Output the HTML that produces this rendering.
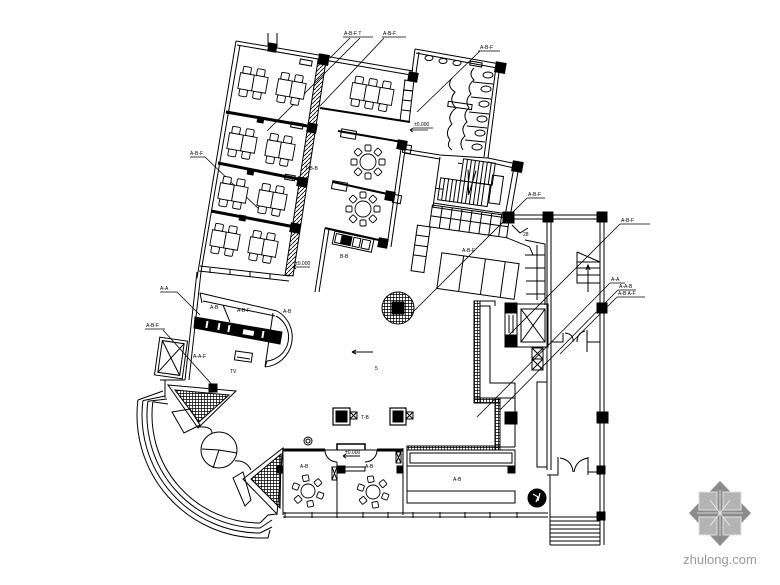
<!DOCTYPE html>
<html><head><meta charset="utf-8"><style>
html,body{margin:0;padding:0;background:#fff;}
svg{display:block;}
text{font-family:"Liberation Sans","Noto Sans CJK SC",sans-serif;fill:#000;}
</style></head><body>
<svg width="780" height="585" viewBox="0 0 780 585" xmlns="http://www.w3.org/2000/svg">
<defs>
<pattern id="grid" width="3" height="3" patternUnits="userSpaceOnUse">
<path d="M0 0.5H3M0.5 0V3" stroke="#000" stroke-width="0.7" fill="none"/>
</pattern>
<pattern id="diag" width="4" height="4" patternUnits="userSpaceOnUse">
<path d="M0 4L4 0" stroke="#000" stroke-width="0.8"/>
</pattern>
<g id="t2" fill="#fff" stroke="#000" stroke-width="0.9">
<rect x="-12" y="-15" width="8" height="7" rx="1.5"/>
<rect x="2" y="-15" width="8" height="7" rx="1.5"/>
<rect x="-12" y="8" width="8" height="7" rx="1.5"/>
<rect x="2" y="8" width="8" height="7" rx="1.5"/>
<rect x="-14" y="-8" width="14" height="16"/>
<rect x="0" y="-8" width="14" height="16"/>
</g>
<g id="t3" fill="#fff" stroke="#000" stroke-width="0.9">
<rect x="-19" y="-15" width="8" height="7" rx="1.5"/>
<rect x="-5" y="-15" width="8" height="7" rx="1.5"/>
<rect x="9" y="-15" width="8" height="7" rx="1.5"/>
<rect x="-19" y="8" width="8" height="7" rx="1.5"/>
<rect x="-5" y="8" width="8" height="7" rx="1.5"/>
<rect x="9" y="8" width="8" height="7" rx="1.5"/>
<rect x="-21" y="-8" width="14" height="16"/>
<rect x="-7" y="-8" width="14" height="16"/>
<rect x="7" y="-8" width="14" height="16"/>
</g>
<g id="r8" fill="#fff" stroke="#000" stroke-width="0.9">
<circle r="8"/>
<rect x="11" y="-3" width="6" height="6" rx="1"/>
<rect x="11" y="-3" width="6" height="6" rx="1" transform="rotate(45)"/>
<rect x="11" y="-3" width="6" height="6" rx="1" transform="rotate(90)"/>
<rect x="11" y="-3" width="6" height="6" rx="1" transform="rotate(135)"/>
<rect x="11" y="-3" width="6" height="6" rx="1" transform="rotate(180)"/>
<rect x="11" y="-3" width="6" height="6" rx="1" transform="rotate(225)"/>
<rect x="11" y="-3" width="6" height="6" rx="1" transform="rotate(270)"/>
<rect x="11" y="-3" width="6" height="6" rx="1" transform="rotate(315)"/>
</g>
<g id="r6" fill="#fff" stroke="#000" stroke-width="0.9">
<circle r="7"/>
<rect x="10" y="-3" width="6" height="6" rx="1" transform="rotate(20)"/>
<rect x="10" y="-3" width="6" height="6" rx="1" transform="rotate(80)"/>
<rect x="10" y="-3" width="6" height="6" rx="1" transform="rotate(140)"/>
<rect x="10" y="-3" width="6" height="6" rx="1" transform="rotate(200)"/>
<rect x="10" y="-3" width="6" height="6" rx="1" transform="rotate(260)"/>
<rect x="10" y="-3" width="6" height="6" rx="1" transform="rotate(320)"/>
</g>
</defs>
<rect width="780" height="585" fill="#fff"/>

<g fill="none" stroke="#000" stroke-width="1">
<!-- ===== Upper dining block ===== -->
<path d="M236 41 L413 71 M237 45 L411 75"/>
<path d="M236 41 L197 278 M240 45 L201 272"/>
<path d="M268 33 V46 M277 33 V47"/>
<path d="M226 112 L313 127 M218 163 L303 180 M211 211 L295 227" stroke-width="3"/>
<path d="M200 266 L290 276 M199 271 L289 281"/>
<path d="M210 268 v5 M230 270 v5 M250 272 v5 M270 274 v5"/>
<polygon points="318,60 326,61 293,276 285,275" fill="url(#diag)"/>
<!-- top middle room -->
<path d="M320 108 L410 122" stroke-width="2"/>
<path d="M405 80 L400 121 M414 80 L409 122 M404 90 L413 91 M403 100 L412 101 M402 110 L411 111"/>
<rect x="300" y="60" width="12" height="5" transform="rotate(10 306 62)"/>
<rect x="291" y="123" width="12" height="5" transform="rotate(10 297 125)"/>
<rect x="285" y="175" width="10" height="5" transform="rotate(10 290 177)"/>
<!-- round table rooms -->
<path d="M338 131 L402 142" stroke-width="2"/>
<path d="M333 182 L392 195" stroke-width="2"/>
<path d="M325 228 L388 242" stroke-width="2"/>
<path d="M402 142 L387 246 M406 143 L391 247"/>
<path d="M325 228 L315 292 M329 229 L319 292"/>
<rect x="341" y="130" width="15" height="8" transform="rotate(10 348 134)"/>
<rect x="332" y="182" width="15" height="8" transform="rotate(10 340 186)"/>
<rect x="403" y="145" width="8" height="8" transform="rotate(10 407 149)"/>
<rect x="393" y="195" width="8" height="8" transform="rotate(10 397 199)"/>
<g transform="rotate(12 352 242)">
<rect x="333" y="235" width="40" height="13"/>
<rect x="342" y="237" width="9" height="9" fill="#000"/>
<rect x="335" y="237" width="6" height="9"/>
<rect x="353" y="237" width="7" height="9"/>
<rect x="362" y="237" width="8" height="9"/>
</g>
<!-- ===== Restroom ===== -->
<path d="M415 49 L500 64 M416 53 L497 68"/>
<path d="M415 49 L411 80 M419 52 L415 80"/>
<path d="M500 64 L488 158 M496 67 L484 157"/>
<path d="M403 149 L440 155 L488 158 M404 153 L440 159"/>
<g fill="#fff">
<ellipse cx="488" cy="75" rx="5" ry="3"/>
<ellipse cx="486" cy="89" rx="5" ry="3"/>
<ellipse cx="484" cy="104" rx="5" ry="3"/>
<ellipse cx="482" cy="119" rx="5" ry="3"/>
<ellipse cx="480" cy="133" rx="5" ry="3"/>
<ellipse cx="477" cy="147" rx="5" ry="3"/>
<ellipse cx="429" cy="58" rx="4" ry="2.5"/>
<ellipse cx="443" cy="61" rx="4" ry="2.5"/>
<ellipse cx="457" cy="63" rx="4" ry="2.5"/>
</g>
<path d="M473 82 L493 84 M471 97 L491 99 M469 112 L489 114 M467 126 L487 128 M465 140 L485 142"/>
<path d="M474 68 Q468 74 474 80 Q466 86 471 94 Q464 100 469 108 Q462 114 467 122 Q460 128 465 136 Q458 142 463 150"/>
<path d="M452 78 Q446 86 455 92 Q448 100 456 108 Q446 116 452 124 Q444 132 450 140 Q446 146 452 150"/>
<rect x="470" y="62" width="12" height="4" transform="rotate(10 476 64)"/>
<rect x="448" y="103" width="24" height="5" transform="rotate(8 460 105)"/>
<path d="M404 80 L413 81 M403 90 L413 91"/>
<!-- ===== Main stairs ===== -->
<path d="M488 158 L517 164 M488 162 L514 168"/>
<path d="M519 166 L510 217 M514 167 L505 216"/>
<path d="M440 157 L433 207"/>
<path d="M433 203 L508 214 M432 207 L507 218"/>
<g transform="rotate(8 470 185)">
<rect x="460" y="160" width="32" height="22"/>
<path d="M464 160v22M468 160v22M472 160v22M476 160v22M480 160v22M484 160v22M488 160v22"/>
<rect x="440" y="182" width="50" height="22"/>
<path d="M444 182v22M448 182v22M452 182v22M456 182v22M460 182v22M464 182v22M468 182v22M472 182v22M476 182v22M480 182v22M484 182v22"/>
<rect x="491" y="172" width="11" height="28"/>
<path d="M466 170 L470 195 L474 170 M436 193 h8 M455 165 h4"/>
</g>
<!-- tiles -->
<g transform="rotate(8 480 240)">
<rect x="428" y="212" width="78" height="22"/>
<path d="M428 223h78M438 212v22M448 212v22M458 212v22M468 212v22M478 212v22M488 212v22M498 212v22"/>
<rect x="416" y="234" width="13" height="46"/>
<path d="M416 244h13M416 254h13M416 264h13"/>
<rect x="444" y="258" width="78" height="36"/>
<path d="M466 258v36M488 258v36M508 258v36"/>
<path d="M506 234 L530 240 L535 248"/>
</g>
<path d="M525 240 L545 244 L545 305 M537 245 L537 300 M525 255h20M525 268h20M526 281h19M526 294h19"/>
<path d="M512 225 L520 233 L528 228"/>
<!-- ===== Center ===== -->
<circle cx="398" cy="308" r="16" fill="url(#grid)"/>
<rect x="392" y="302" width="12" height="12" fill="#000"/>
<rect x="333" y="408" width="17" height="17" stroke-width="1.2"/>
<rect x="336" y="411" width="11" height="11" fill="#000"/>
<rect x="350" y="412" width="7" height="7"/>
<path d="M350 412l7 7M357 412l-7 7"/>
<rect x="390" y="408" width="16" height="17" stroke-width="1.2"/>
<rect x="393" y="411" width="10" height="11" fill="#000"/>
<rect x="406" y="412" width="7" height="7"/>
<path d="M406 412l7 7M413 412l-7 7"/>
<path d="M352 352 h21 M352 352 l4 -2 M352 352 l4 2"/>
<!-- ===== Counter L & elevator ===== -->
<rect x="474" y="301" width="6" height="102" fill="url(#grid)"/>
<rect x="474" y="398" width="26" height="5" fill="url(#grid)"/>
<rect x="495" y="398" width="5" height="52" fill="url(#grid)"/>
<rect x="407" y="446" width="93" height="4" fill="url(#grid)"/>
<path d="M474 301 H495 V306"/>
<polygon points="480,306 490,306 490,383 515,383 515,398 480,398"/>
<rect x="505" y="303" width="12" height="10" fill="#000"/>
<rect x="505" y="335" width="12" height="12" fill="#000"/>
<rect x="505" y="313" width="12" height="22"/>
<path d="M509 315v18M513 315v18"/>
<rect x="517" y="304" width="31" height="43"/>
<rect x="521" y="309" width="24" height="33"/>
<path d="M521 309l24 33M545 309l-24 33"/>
<rect x="532" y="348" width="11" height="22"/>
<path d="M532 348l11 11M543 348l-11 11M532 359l11 11M543 359l-11 11M532 359h11"/>
<rect x="505" y="412" width="12" height="12" fill="#000"/>
<rect x="508" y="467" width="7" height="6" fill="#000"/>
<path d="M500 403 V447 M515 383 V447 M500 447 H515"/>
<!-- ===== Right section ===== -->
<path d="M508 215 H602 M508 219 H602"/>
<path d="M547 222 V470 M551 222 V470"/>
<path d="M600 222 V545 M604 222 V545"/>
<rect x="503" y="212" width="11" height="11" fill="#000"/>
<rect x="543" y="212" width="10" height="10" fill="#000"/>
<rect x="597" y="212" width="10" height="10" fill="#000"/>
<rect x="597" y="303" width="10" height="10" fill="#000"/>
<rect x="597" y="412" width="11" height="11" fill="#000"/>
<rect x="597" y="466" width="8" height="8" fill="#000"/>
<rect x="597" y="512" width="8" height="8" fill="#000"/>
<rect x="537" y="382" width="10" height="85"/>
<path d="M551 342 H563 V333 M587 330 V352 M587 342 H600"/>
<path d="M565 333 Q574 334 573 342 M585 331 Q577 333 577 342"/>
<path d="M577 252 L600 262 M577 252 V283 H600 M577 262 H600 M577 268 H600 M577 275 H600 M588 265 V292"/>
<path d="M586 270 l2 -5 l2 5"/>
<path d="M537 467 H547 M547 475 H558 V457 M588 457 V475 M588 472 H597"/>
<path d="M560 458 Q572 460 573 472 M588 458 Q576 460 574 472"/>
<path d="M550 475 V545 M550 517 H600 M550 521 H600 M550 525 H600 M550 529 H600 M550 533 H600 M550 537 H600 M550 541 H600 M550 545 H600"/>
<circle cx="537" cy="498" r="9" fill="#000"/>
<path d="M533 494 l5 3 l-2 5 M540 493 l-2 8" stroke="#fff" stroke-width="1.2"/>
<!-- ===== Private rooms ===== -->
<path d="M283 450 H325 M377 450 H403" stroke-width="3"/>
<path d="M325 450 H377"/>
<path d="M337 450 V444 H365 V450" stroke-width="1.5"/>
<path d="M325 450 A12 12 0 0 0 337 462 M377 450 A12 12 0 0 1 365 462"/>
<path d="M283 448 V515 M337 462 V515 M403 448 V515 M407 448 V492"/>
<path d="M283 513 H548 M283 517 H548"/>
<path d="M285 512v6M312 512v6M337 512v6M363 512v6M388 512v6M413 512v6M440 512v6M465 512v6M490 512v6M517 512v6"/>
<rect x="338" y="466" width="7" height="7" fill="#000"/>
<rect x="277" y="466" width="6" height="7" fill="#000"/>
<rect x="397" y="466" width="6" height="7" fill="#000"/>
<rect x="345" y="467" width="20" height="4"/>
<rect x="332" y="467" width="5" height="13"/>
<path d="M332 467l5 13M337 467l-5 13"/>
<rect x="396" y="452" width="5" height="11"/>
<path d="M396 452l5 11M401 452l-5 11"/>
<path d="M343 456 h17 M343 456 l3 -2 M343 456 l3 2"/>
<rect x="407" y="450" width="108" height="16"/>
<rect x="410" y="453" width="102" height="10"/>
<rect x="407" y="491" width="108" height="12"/>
<circle cx="308" cy="441" r="4"/>
<circle cx="308" cy="441" r="2"/>
<!-- ===== Bar & left part ===== -->
<path d="M197 272 L185 380 M201 272 L189 380"/>
<path d="M200 293 L277 311 M203 301 L275 316 M200 293 L202 303"/>
<path d="M277 311 A30 30 0 0 1 265 367 M276 316 A24 24 0 0 1 267 361 M265 367 L273 313 M267 361 L265 367"/>
<polygon points="195,317 282,332 280,344 194,328" fill="#000"/>
<g fill="#fff" stroke="none">
<rect x="243" y="330" width="11" height="5" transform="rotate(10 248 332)"/>
<rect x="206" y="321" width="2" height="7" transform="rotate(10 207 324)"/>
<rect x="218" y="323" width="2" height="7" transform="rotate(10 219 326)"/>
<rect x="228" y="325" width="2" height="7" transform="rotate(10 229 328)"/>
<rect x="262" y="331" width="2" height="7" transform="rotate(10 263 334)"/>
</g>
<path d="M223 305 L230 322"/>
<rect x="235" y="352" width="17" height="9" transform="rotate(8 243 356)"/>
<path d="M237 357 L250 359"/>
<g transform="rotate(8 171 358)">
<rect x="157" y="339" width="28" height="38"/>
<rect x="160" y="342" width="22" height="32"/>
<path d="M160 342L182 374M182 342L160 374"/>
</g>
<path d="M165 380 V398 M160 380 H185"/>
<!-- upper triangle -->
<polygon points="168,385 236,391 198,428"/>
<polygon points="175,390 229,395 199,422" fill="url(#grid)"/>
<rect x="209" y="384" width="8" height="8" fill="#000"/>
<polygon points="172,412 190,409 200,425 184,433"/>
<!-- lower triangle -->
<polygon points="283,448 243,479 277,514"/>
<polygon points="281,454 251,479 280,508" fill="url(#grid)"/>
<polygon points="233,478 243,472 251,500 245,506"/>
<!-- circle -->
<circle cx="219" cy="450" r="18"/>
<path d="M219 450 L202 449 M219 450 L237 453 M219 450 L213 468"/>
<path d="M198 427 Q212 426 212 433 M235 461 Q246 460 251 470"/>
<!-- arcs -->
<path d="M137.9 400 A123 123 0 0 0 260 538"/>
<path d="M142.9 400.6 A118 118 0 0 0 260 533"/>
<path d="M147.8 401.2 A113 113 0 0 0 260 528"/>
<path d="M152.8 401.8 A108 108 0 0 0 260 523"/>
<path d="M137.9 400 L163 391 M142.9 400.6 L165 396 M147.8 401.2 L167 399 M152.8 401.8 L168 404"/>
<path d="M260 538 L268 538 L270 530 M260 533 L272 527 M260 528 L272 520 M260 523 L268 515 L277 514"/>
<!-- ===== Leaders ===== -->
<g stroke-width="0.8">
<path d="M343 37 H373 M382 37 H406 M360 38 L267 131 M384 38 L320 106 M350 38 L330 58"/>
<path d="M478 51 H500 M480 51 L417 112"/>
<path d="M190 157 H205 M205 157 L263 213"/>
<path d="M527 198 H545 M527 198 L411 314"/>
<path d="M620 224 H650 M620 224 L505 339"/>
<path d="M610 283 H625 M618 290 H636 M617 297 H645 M610 283 L477 417 M618 290 L500 410 M617 297 L560 354"/>
<path d="M160 292 H177 M177 292 L200 315"/>
<path d="M145 329 H165 M163 330 L215 388"/>
<path d="M293 267 H310 M293 267 l3 -2 M293 267 l3 2"/>
<path d="M410 130 H428 M410 130 l3 -2 M410 130 l3 2"/>
<path d="M413 128 H433"/>
</g>
</g>

<!-- structural columns -->
<g fill="#000">
<rect x="268" y="43" width="9" height="9" transform="rotate(10 272 47)"/>
<rect x="318" y="54" width="11" height="11" transform="rotate(10 323 60)"/>
<rect x="408" y="72" width="10" height="10" transform="rotate(10 413 77)"/>
<rect x="495" y="62" width="11" height="11" transform="rotate(10 500 67)"/>
<rect x="397" y="140" width="10" height="10" transform="rotate(10 402 145)"/>
<rect x="385" y="191" width="10" height="10" transform="rotate(10 390 196)"/>
<rect x="378" y="238" width="10" height="10" transform="rotate(10 383 243)"/>
<rect x="307" y="123" width="10" height="10" transform="rotate(10 312 128)"/>
<rect x="297" y="177" width="10" height="10" transform="rotate(10 302 182)"/>
<rect x="290" y="223" width="10" height="10" transform="rotate(10 295 228)"/>
<rect x="257" y="117" width="7" height="6" transform="rotate(10 260 120)"/>
<rect x="247" y="169" width="7" height="6" transform="rotate(10 250 172)"/>
<rect x="239" y="215" width="7" height="6" transform="rotate(10 242 218)"/>
<rect x="512" y="161" width="11" height="11" transform="rotate(10 517 166)"/>
</g>

<!-- tiny labels -->
<g font-size="5">
<text x="344" y="35">A-B-F  T</text>
<text x="383" y="35">A-B-F</text>
<text x="480" y="49">A-B-F</text>
<text x="190" y="155">A-B-F</text>
<text x="528" y="196">A-B-F</text>
<text x="621" y="222">A-B-F</text>
<text x="611" y="281">A-A</text>
<text x="619" y="288">A-A-B</text>
<text x="618" y="295">A-B  A-F</text>
<text x="160" y="290">A-A</text>
<text x="146" y="327">A-B-F</text>
<text x="193" y="358">A-A-F</text>
<text x="230" y="373">TV</text>
<text x="305" y="170">T-B-B</text>
<text x="414" y="126">±0.000</text>
<text x="295" y="265">±0.000</text>
<text x="345" y="454">±0.000</text>
<text x="340" y="258">B-B</text>
<text x="462" y="252">A-B-F</text>
<text x="523" y="236">28</text>
<text x="375" y="370">5</text>
<text x="361" y="419">T-B</text>
<text x="300" y="468">A-B</text>
<text x="365" y="468">A-B</text>
<text x="453" y="481">A-B</text>
<text x="210" y="309">A-B</text>
<text x="237" y="312">A-B-F</text>
<text x="283" y="313">A-B</text>
</g>

<!-- tables -->
<use href="#t2" transform="translate(253,83) rotate(10)"/>
<use href="#t2" transform="translate(291,89) rotate(10)"/>
<use href="#t2" transform="translate(242,143) rotate(10)"/>
<use href="#t2" transform="translate(280,150) rotate(10)"/>
<use href="#t2" transform="translate(233,193) rotate(10)"/>
<use href="#t2" transform="translate(272,200) rotate(10)"/>
<use href="#t2" transform="translate(225,240) rotate(10)"/>
<use href="#t2" transform="translate(263,247) rotate(10)"/>
<use href="#t3" transform="translate(372,94) rotate(10)"/>
<use href="#r8" transform="translate(368,162)"/>
<use href="#r8" transform="translate(363,209)"/>
<use href="#r6" transform="translate(308,491)"/>
<use href="#r6" transform="translate(373,492)"/>

<!-- watermark -->
<g>
<polygon points="720,481 751,513 720,546 689,513" fill="#8c8c8c"/>
<rect x="699" y="492" width="18" height="18" fill="#b4b4b4" stroke="#e0e0e0" stroke-width="1"/>
<rect x="723" y="492" width="18" height="18" fill="#b4b4b4" stroke="#e0e0e0" stroke-width="1"/>
<rect x="699" y="517" width="18" height="18" fill="#b4b4b4" stroke="#e0e0e0" stroke-width="1"/>
<rect x="723" y="517" width="18" height="18" fill="#b4b4b4" stroke="#e0e0e0" stroke-width="1"/>
<path d="M720 490 V536 M697 513 H743 M710 500 L730 526 M730 500 L710 526" stroke="#eee" stroke-width="0.8"/>
<text x="720" y="564" font-size="13" text-anchor="middle" style="fill:#9a9a9a">zhulong.com</text>
</g>
</svg>
</body></html>
